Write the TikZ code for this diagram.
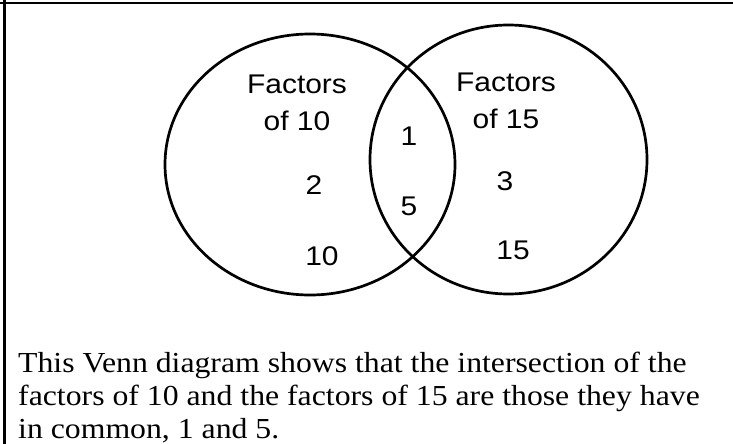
\documentclass[tikz,border=0pt]{standalone}
\usepackage{fontspec}
\usepackage{graphicx}
\setmainfont{Liberation Serif}
\newfontfamily\labelfont{Liberation Sans}

% text in the picture is a little wider than it is tall
\newcommand{\widened}[1]{\scalebox{1.11}[1]{#1}}
\newcommand{\setname}[1]{\widened{\begin{tabular}{@{}c@{}}#1\end{tabular}}}
\newcommand{\captionlines}[1]{\scalebox{1.095}[1]{\begin{tabular}[t]{@{}l@{}}#1\end{tabular}}}

\tikzset{
  venn/.style={line width=2.7pt},
  frameline/.style={line width=2.8pt},
  setlabel/.style={font=\labelfont\fontsize{27}{37}\selectfont, inner sep=0pt},
  caption/.style={font=\fontsize{29}{33}\selectfont, anchor=base west, inner sep=0pt}
}

\begin{document}
\begin{tikzpicture}[x=1pt, y=-1pt]
        \useasboundingbox (0,0) rectangle (733,444);

        % Frame
        \draw[frameline] (0,3) -- (733,3);
        \draw[frameline] (4.3,0) -- (4.3,444);

        % Sets
        \draw[venn] (310,164.5) ellipse [x radius=145, y radius=130.5];
        \draw[venn] (508.5,159.5) ellipse [x radius=138.5, y radius=134.5];

        % Set names
        \node[setlabel] (tenname) at (297,105) {\setname{Factors\\of 10}};
        \node[setlabel] (fifteenname) at (506,103) {\setname{Factors\\of 15}};

        % Members
        \node[setlabel] (one) at (409,136) {\widened{1}};
        \node[setlabel] (five) at (409,206) {\widened{5}};
        \node[setlabel] (two) at (314,185) {\widened{2}};
        \node[setlabel] (ten) at (322,256) {\widened{10}};
        \node[setlabel] (three) at (505,181) {\widened{3}};
        \node[setlabel] (fifteen) at (513,250) {\widened{15}};

        % Caption
        \node[caption] (note) at (18,372) {\captionlines{This Venn diagram shows that the intersection of the\\
        factors of 10 and the factors of 15 are those they have\\
        in common, 1 and 5.}};
    \end{tikzpicture}
\end{document}
